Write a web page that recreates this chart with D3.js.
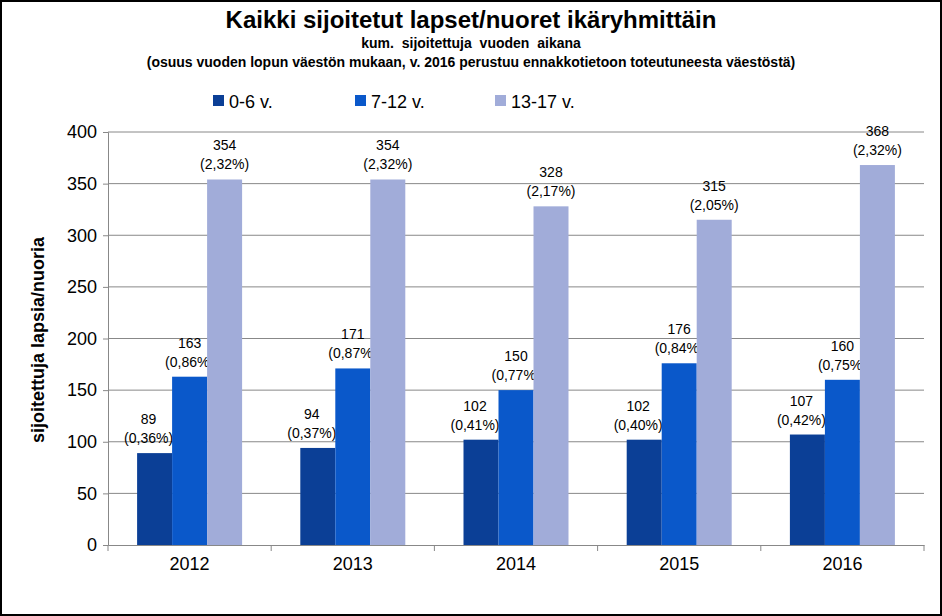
<!DOCTYPE html><html><head><meta charset="utf-8"><script src="https://cdn.jsdelivr.net/npm/d3@7"></script>
<style>body{margin:0;background:#fff}text{font-family:Arial,"Liberation Sans",sans-serif}</style></head><body>
<svg id="c" width="942" height="616"></svg>
<script>
const years=["2012","2013","2014","2015","2016"];
const seriesNames=["0-6 v.","7-12 v.","13-17 v."];
const v06=[89,94,102,102,107];
const v712=[163,171,150,176,160];
const v1317=[354,354,328,315,368];
const p06=["0,36%","0,37%","0,41%","0,40%","0,42%"];
const p712=["0,86%","0,87%","0,77%","0,84%","0,75%"];
const p1317=["2,32%","2,32%","2,17%","2,05%","2,32%"];
const yTicks=[0,50,100,150,200,250,300,350,400];
const colors=["#0B3F96","#0A58CA","#A1ACD9"];
const vals=[v06,v712,v1317],pcts=[p06,p712,p1317];
const svg=d3.select("#c");
svg.append("rect").attr("x",1).attr("y",1).attr("width",940).attr("height",614).attr("fill","#fff").attr("stroke","#000").attr("stroke-width",2);
const L=108,R=924,T=132,B=545;
const y=d3.scaleLinear().domain([0,400]).range([B,T]);
const x=d3.scaleBand().domain(years).range([L,R]);
const xs=d3.scaleBand().domain([0,1,2]).range([0,105]);
svg.append("g").selectAll("line").data(yTicks.slice(1)).join("line").attr("x1",L).attr("x2",R).attr("y1",d=>y(d)).attr("y2",d=>y(d)).attr("stroke","#888");
const ya=svg.append("g").attr("transform",`translate(${L},0)`).call(d3.axisLeft(y).tickValues(yTicks).tickSize(5).tickPadding(6));
ya.selectAll("text").attr("font-size",18).attr("fill","#000");
ya.select(".domain").attr("stroke","#888");ya.selectAll(".tick line").attr("stroke","#888");
const xa=svg.append("g").attr("transform",`translate(0,${B})`).call(d3.axisBottom(x).tickSize(0).tickPadding(12));
xa.selectAll("text").attr("font-size",18).attr("fill","#000");xa.select(".domain").attr("stroke","#888");
svg.append("g").selectAll("line").data(years.concat(["end"])).join("line").attr("x1",(d,i)=>L+i*x.step()).attr("x2",(d,i)=>L+i*x.step()).attr("y1",B).attr("y2",B+6).attr("stroke","#888");
vals.forEach((arr,s)=>{
 const g=svg.append("g");
 years.forEach((yr,i)=>{
  const bx=x(yr)+(x.bandwidth()-105)/2+xs(s),bw=xs.bandwidth(),cx=bx+bw/2-(s==0?6:0);
  g.append("rect").attr("x",bx).attr("y",y(arr[i])).attr("width",bw).attr("height",B-y(arr[i])).attr("fill",colors[s]);
  g.append("text").attr("x",cx).attr("y",y(arr[i])-29).attr("text-anchor","middle").attr("font-size",14).text(arr[i]);
  g.append("text").attr("x",cx).attr("y",y(arr[i])-10).attr("text-anchor","middle").attr("font-size",14).text("("+pcts[s][i]+")");
 });
});
svg.append("text").attr("x",471).attr("y",28).attr("text-anchor","middle").attr("font-size",24).attr("font-weight","bold").text("Kaikki sijoitetut lapset/nuoret ikäryhmittäin");
svg.append("text").attr("x",471).attr("y",48).attr("text-anchor","middle").attr("font-size",14).attr("font-weight","bold").attr("word-spacing",4).text("kum. sijoitettuja vuoden aikana");
svg.append("text").attr("x",471).attr("y",67).attr("text-anchor","middle").attr("font-size",14).attr("font-weight","bold").text("(osuus vuoden lopun väestön mukaan, v. 2016 perustuu ennakkotietoon toteutuneesta väestöstä)");
const lx=[213,355,495];
seriesNames.forEach((n,i)=>{
 svg.append("rect").attr("x",lx[i]).attr("y",95).attr("width",11).attr("height",11).attr("fill",colors[i]);
 svg.append("text").attr("x",lx[i]+16).attr("y",108).attr("font-size",18).text(n);
});
svg.append("text").attr("transform","translate(44,340) rotate(-90)").attr("text-anchor","middle").attr("font-size",18).attr("font-weight","bold").text("sijoitettuja lapsia/nuoria");
</script></body></html>
